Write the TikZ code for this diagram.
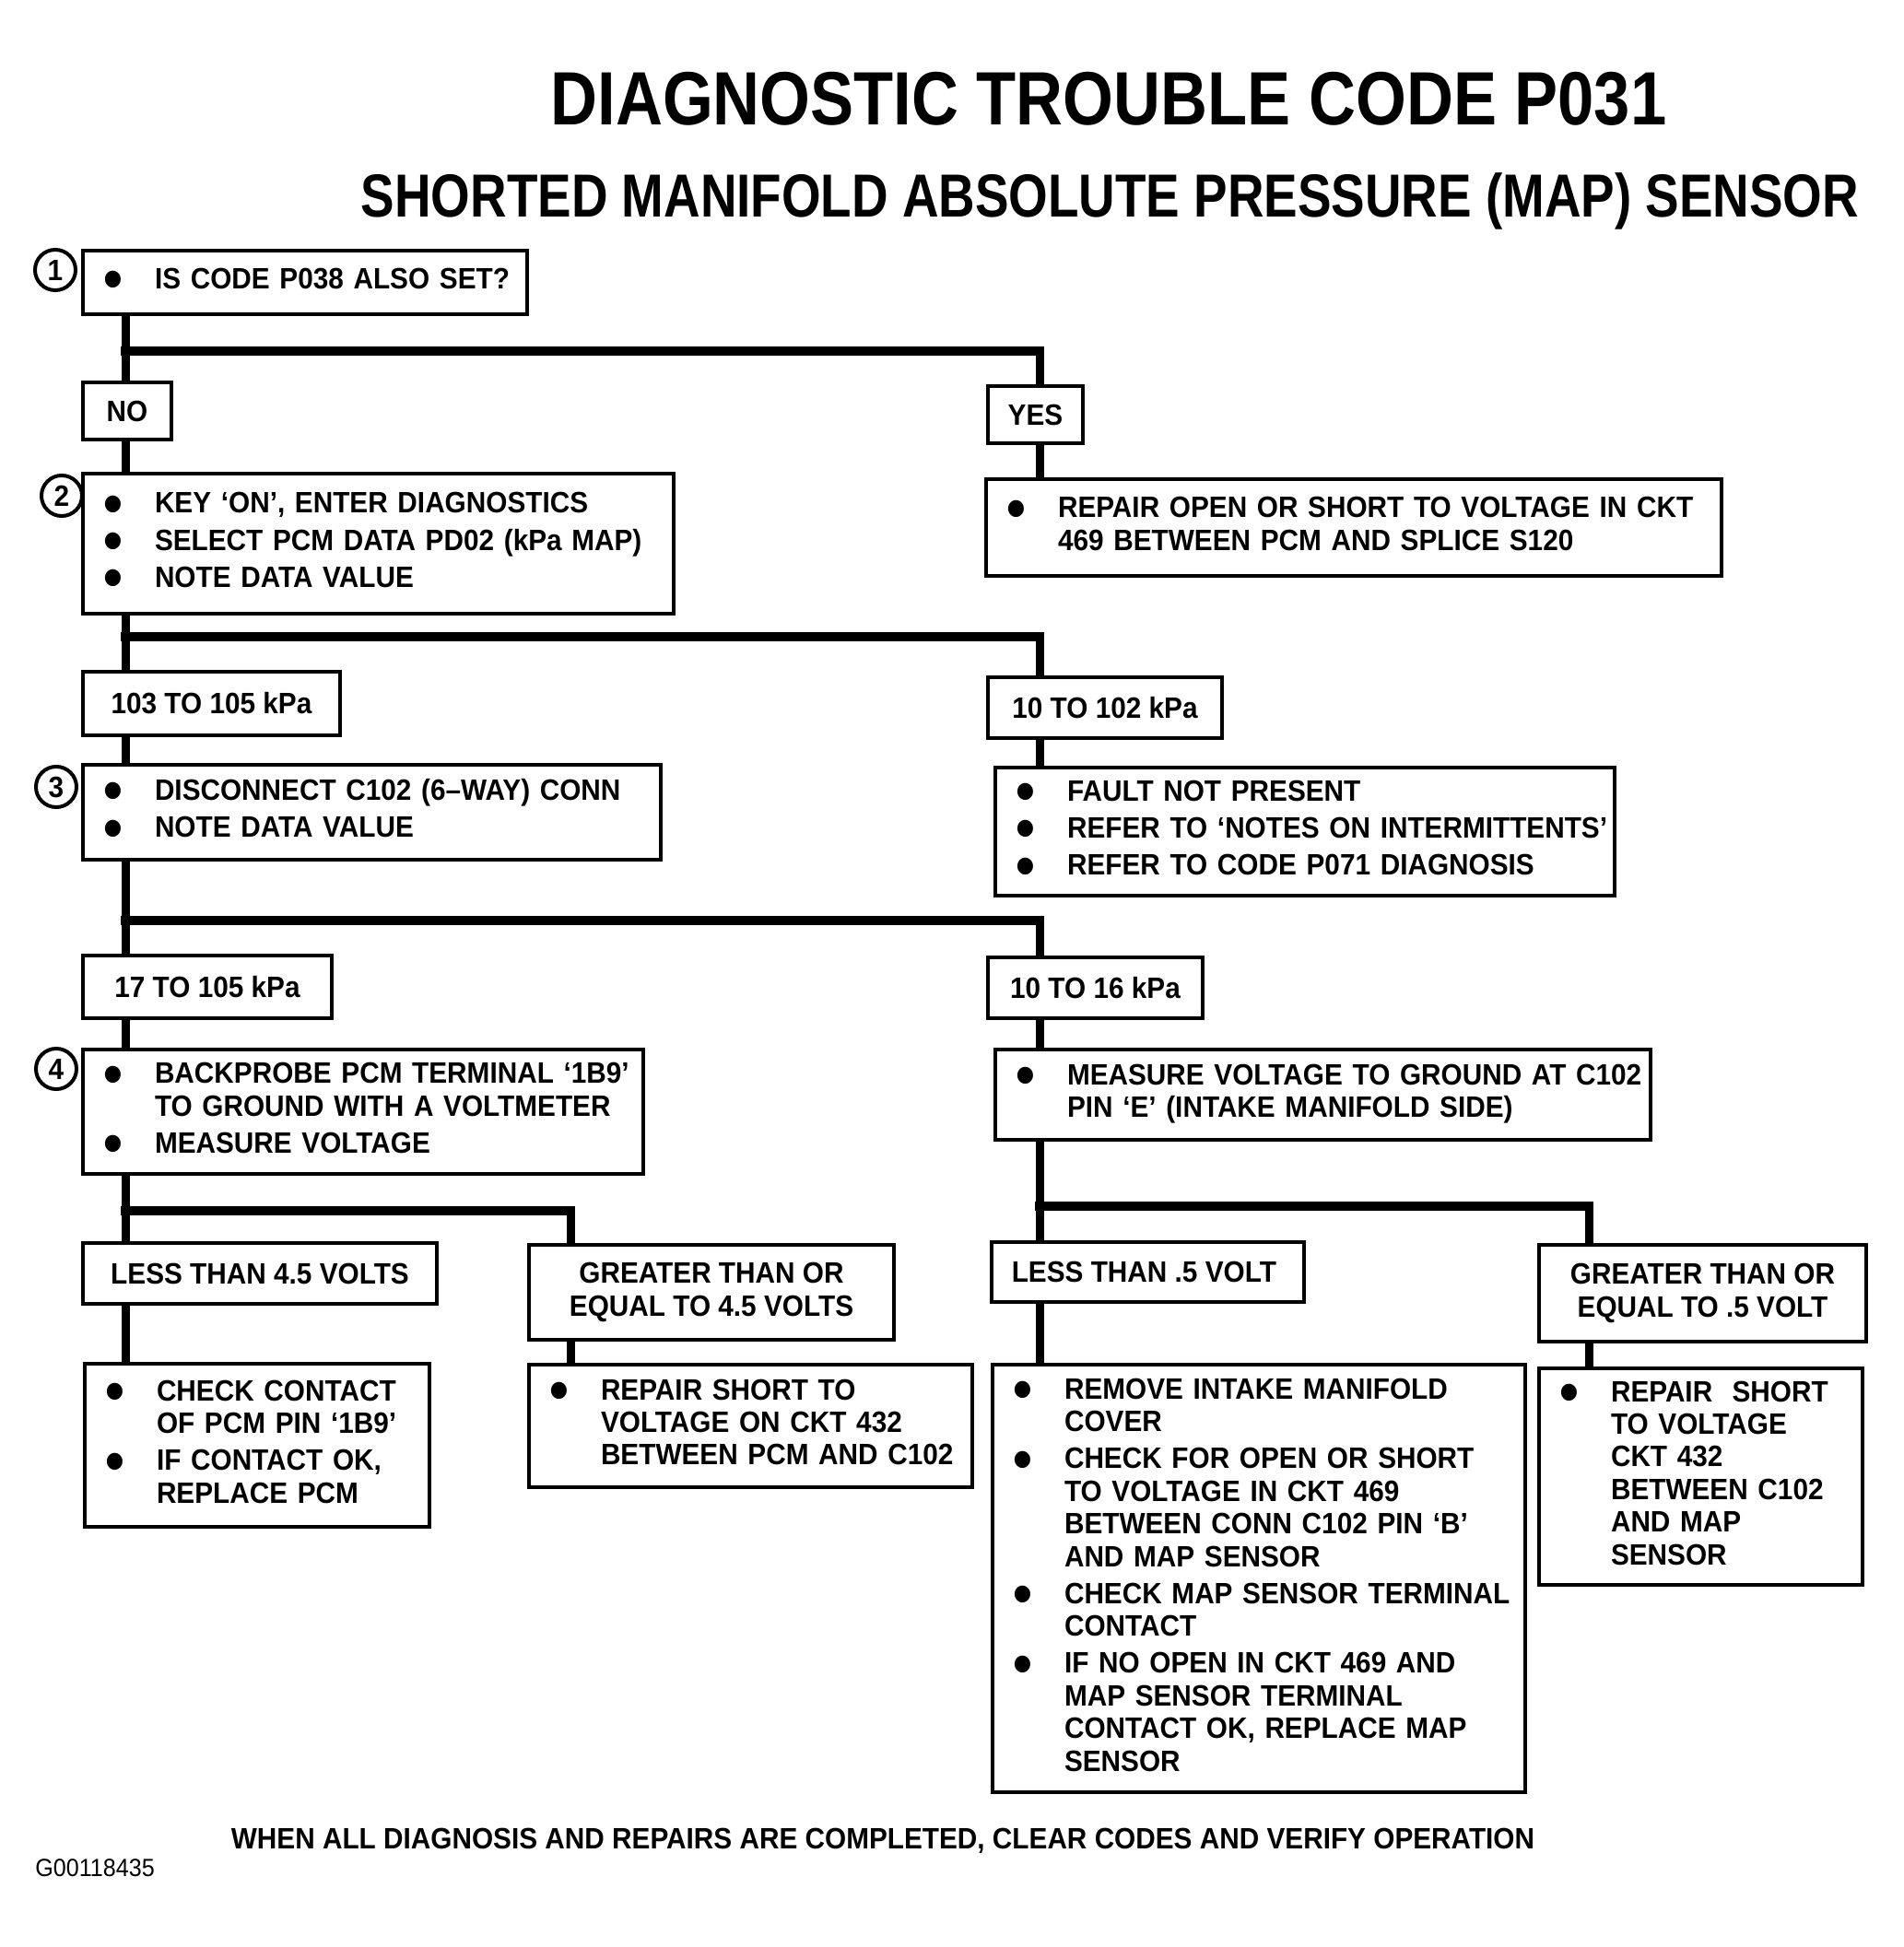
\documentclass[tikz,border=0pt]{standalone}
\usepackage{fontspec}
\usepackage{graphicx}
\setmainfont{Liberation Sans}[FakeStretch=0.93]
\newfontfamily\headfont{Liberation Sans}[FakeStretch=0.86]
\newfontfamily\subfont{Liberation Sans}[FakeStretch=0.83]
\newcommand\bl{\raisebox{-5.7pt}[0pt][0pt]{\scalebox{2}{\textbullet}}}
\newenvironment{steps}{\begin{tabular}{@{}p{28pt}@{}l@{}}}{\end{tabular}}
\tikzset{
  box/.style={draw, line width=2.2pt, fill=white, anchor=north west, inner xsep=11pt, inner ysep=0pt, outer sep=0pt, font=\bfseries\fontsize{16}{17.7}\selectfont},
  stepbox/.style={box, align=left},
  tagbox/.style={box, align=center, inner xsep=0pt},
  num/.style={circle, draw, line width=2pt, minimum size=22pt, inner sep=0pt, font=\bfseries\fontsize{16}{16}\selectfont},
  vbar/.style={line width=4.5pt},
  hbar/.style={line width=5pt, line cap=rect},
}
\begin{document}
\begin{tikzpicture}[x=1pt, y=-1pt]
\useasboundingbox (0,0) rectangle (1032.5,1056.5);
% headings
\node[anchor=base, font=\headfont\bfseries\fontsize{41}{45}\selectfont] (ttl) at (601.5,68) {DIAGNOSTIC TROUBLE CODE P031};
\node[anchor=base, font=\subfont\bfseries\fontsize{33}{36}\selectfont] (sub) at (602.25,118) {SHORTED MANIFOLD ABSOLUTE PRESSURE (MAP) SENSOR};
% step numbers
\foreach \i/\px/\py in {1/30/146.5, 2/33.5/269, 3/30.5/427, 4/30.5/580}
  \node[num] (n\i) at (\px,\py) {\i};
% answer tags
\foreach \nm/\px/\py/\bw/\bh/\txt in {
  no/45/207.5/48/31/NO,
  yes/536/209.5/51.5/31/YES,
  hi1/45/364.5/139.5/34.5/103 TO 105 kPa,
  lo1/536/367.5/127/33/10 TO 102 kPa,
  hi2/45/518.5/135/34/17 TO 105 kPa,
  lo2/536/519.5/116.5/33/10 TO 16 kPa,
  lt45/45/674.5/192/33/LESS THAN 4.5 VOLTS,
  lt05/538/674/169.5/32.5/LESS THAN .5 VOLT
}
  \node[tagbox, minimum width=\bw pt, minimum height=\bh pt] (\nm) at (\px,\py) {\txt};
\node[tagbox, minimum width=198pt, minimum height=51.5pt] (ge45) at (287,675.5) {GREATER THAN OR\\EQUAL TO 4.5 VOLTS};
\node[tagbox, minimum width=177.5pt, minimum height=52.5pt] (ge05) at (835,675.5) {GREATER THAN OR\\EQUAL TO .5 VOLT};
% steps
\node[stepbox, text width=219pt, minimum height=34.5pt] (q1) at (45,136) {\begin{steps}
  \bl & IS CODE P038 ALSO SET?
\end{steps}};
\node[stepbox, text width=298.5pt, minimum height=76pt] (q2) at (45,257) {\begin{steps}
  \bl & KEY ‘ON’, ENTER DIAGNOSTICS\\[2.4pt]
  \bl & SELECT PCM DATA PD02 (kPa MAP)\\[2.4pt]
  \bl & NOTE DATA VALUE
\end{steps}};
\node[stepbox, text width=377pt, minimum height=52.5pt] (yesfix) at (535,260) {\begin{steps}
  \bl & REPAIR OPEN OR SHORT TO VOLTAGE IN CKT\\
      & 469 BETWEEN PCM AND SPLICE S120
\end{steps}};
\node[stepbox, text width=291.5pt, minimum height=51.5pt] (q3) at (45,415) {\begin{steps}
  \bl & DISCONNECT C102 (6–WAY) CONN\\[2.4pt]
  \bl & NOTE DATA VALUE
\end{steps}};
\node[stepbox, text width=314pt, minimum height=69.5pt] (okfix) at (540,416.5) {\begin{steps}
  \bl & FAULT NOT PRESENT\\[2.4pt]
  \bl & REFER TO ‘NOTES ON INTERMITTENTS’\\[2.4pt]
  \bl & REFER TO CODE P071 DIAGNOSIS
\end{steps}};
\node[stepbox, text width=282pt, minimum height=67.5pt] (q4) at (45,569.5) {\begin{steps}
  \bl & BACKPROBE PCM TERMINAL ‘1B9’\\
      & TO GROUND WITH A VOLTMETER\\[2.4pt]
  \bl & MEASURE VOLTAGE
\end{steps}};
\node[stepbox, text width=333.5pt, minimum height=49pt] (q5) at (540,569.5) {\begin{steps}
  \bl & MEASURE VOLTAGE TO GROUND AT C102\\
      & PIN ‘E’ (INTAKE MANIFOLD SIDE)
\end{steps}};
\node[stepbox, text width=165pt, minimum height=88.5pt] (fixA) at (46,740) {\begin{steps}
  \bl & CHECK CONTACT\\
      & OF PCM PIN ‘1B9’\\[2.4pt]
  \bl & IF CONTACT OK,\\
      & REPLACE PCM
\end{steps}};
\node[stepbox, text width=218.5pt, minimum height=66.5pt] (fixB) at (287,740.5) {\begin{steps}
  \bl & REPAIR SHORT TO\\
      & VOLTAGE ON CKT 432\\
      & BETWEEN PCM AND C102
\end{steps}};
\node[stepbox, text width=267pt, minimum height=232pt] (fixC) at (538.5,740.5) {\begin{steps}
  \bl & REMOVE INTAKE MANIFOLD\\
      & COVER\\[2.4pt]
  \bl & CHECK FOR OPEN OR SHORT\\
      & TO VOLTAGE IN CKT 469\\
      & BETWEEN CONN C102 PIN ‘B’\\
      & AND MAP SENSOR\\[2.4pt]
  \bl & CHECK MAP SENSOR TERMINAL\\
      & CONTACT\\[2.4pt]
  \bl & IF NO OPEN IN CKT 469 AND\\
      & MAP SENSOR TERMINAL\\
      & CONTACT OK, REPLACE MAP\\
      & SENSOR
\end{steps}};
\node[stepbox, text width=153.5pt, minimum height=117.5pt] (fixD) at (835,742.5) {\begin{steps}
  \bl & REPAIR~~SHORT\\
      & TO VOLTAGE\\
      & CKT 432\\
      & BETWEEN C102\\
      & AND MAP\\
      & SENSOR
\end{steps}};
% connectors
\coordinate (L) at (68,0);
\coordinate (R) at (564,0);
\coordinate (M) at (309.5,0);
\coordinate (F) at (862,0);
\foreach \a/\b/\c in {q1/no/L, no/q2/L, q2/hi1/L, hi1/q3/L, q3/hi2/L, hi2/q4/L, q4/lt45/L, lt45/fixA/L,
  yes/yesfix/R, lo1/okfix/R, lo2/q5/R, q5/lt05/R, lt05/fixC/R, ge45/fixB/M, ge05/fixD/F}
  \draw[vbar] (\a.south -| \c) -- (\b.north -| \c);
\foreach \py/\a/\c/\b in {190.5/L/R/yes, 345.5/L/R/lo1, 499.5/L/R/lo2, 657/L/M/ge45, 654.5/R/F/ge05}{
  \draw[hbar] (\a |- 0,\py) -- (\c |- 0,\py);
  \draw[vbar] (\c |- 0,\py) -- (\b.north -| \c);
}
% footer
\node[anchor=base, font=\bfseries\fontsize{16}{18}\selectfont] (foot) at (479,1003) {WHEN ALL DIAGNOSIS AND REPAIRS ARE COMPLETED, CLEAR CODES AND VERIFY OPERATION};
\node[anchor=base west, font=\fontsize{13.5}{15}\selectfont, inner sep=0pt] (code) at (19,1018) {G00118435};
\end{tikzpicture}
\end{document}
